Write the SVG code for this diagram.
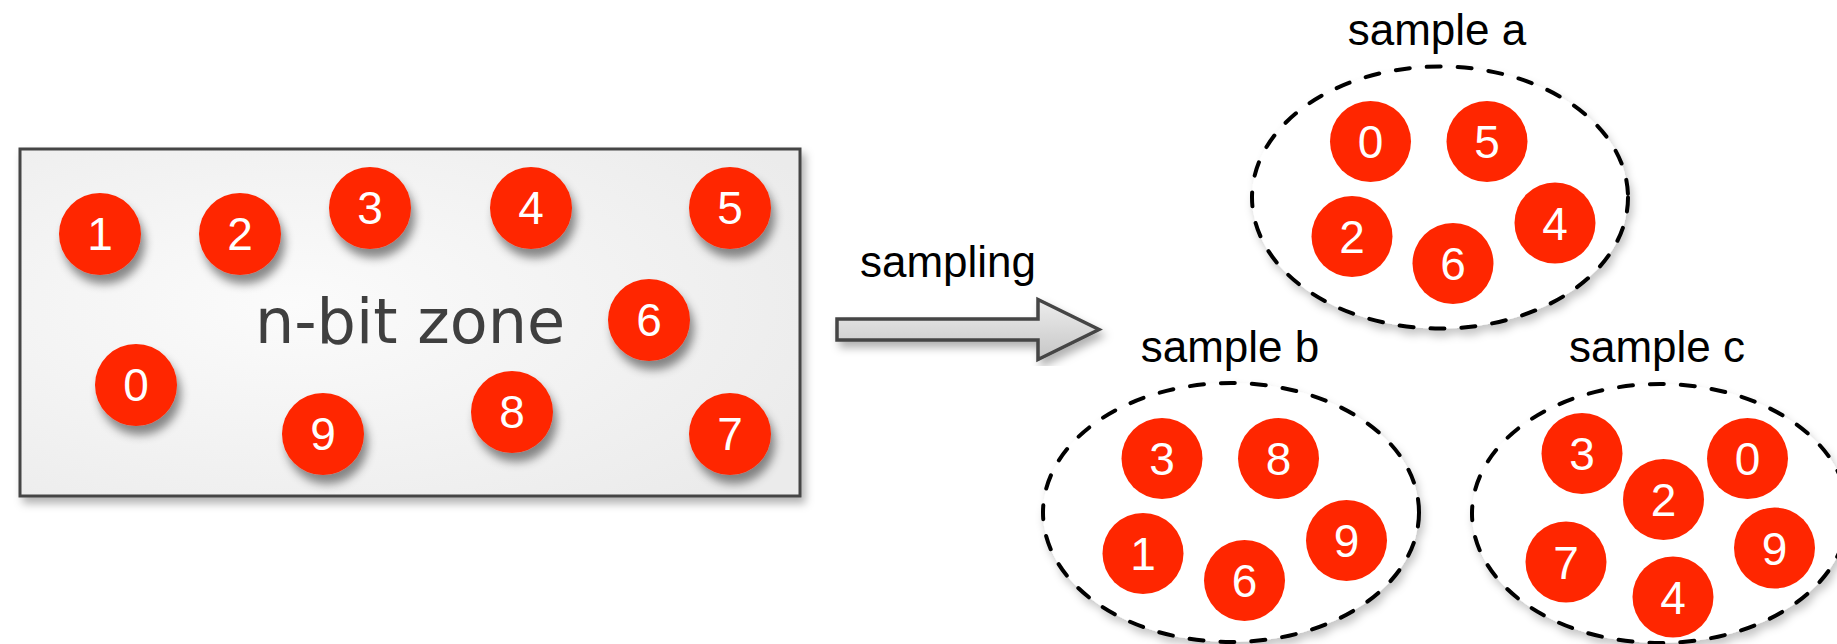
<svg xmlns="http://www.w3.org/2000/svg" width="1837" height="644" viewBox="0 0 1837 644">
<defs>
<filter id="ds" x="-40%" y="-40%" width="190%" height="200%">
<feDropShadow dx="4" dy="9" stdDeviation="5" flood-color="#000" flood-opacity="0.45"/>
</filter>
<filter id="rs" x="-5%" y="-5%" width="112%" height="115%">
<feDropShadow dx="4" dy="6" stdDeviation="4" flood-color="#000" flood-opacity="0.3"/>
</filter>
<filter id="es" x="-10%" y="-10%" width="125%" height="130%">
<feDropShadow dx="3" dy="6" stdDeviation="4" flood-color="#000" flood-opacity="0.22"/>
</filter>
<radialGradient id="rg" cx="35%" cy="45%" r="75%">
<stop offset="0" stop-color="#fbfbfb"/>
<stop offset="1" stop-color="#ebebeb"/>
</radialGradient>
<linearGradient id="ag" x1="0" y1="0" x2="0" y2="1">
<stop offset="0" stop-color="#ededed"/>
<stop offset="1" stop-color="#c6c6c6"/>
</linearGradient>
<style>
.ball{fill:#ff2600}
.num{fill:#fff;font-family:"Liberation Sans",Arial,sans-serif;font-size:46px;text-anchor:middle}
.lbl{fill:#000;font-family:"Liberation Sans",Arial,sans-serif;font-size:44px;text-anchor:middle}
.grp{fill:#fff;stroke:#000;stroke-width:4;stroke-linecap:round;stroke-dasharray:14 17}
</style>
</defs>
<rect width="1837" height="644" fill="#fff"/>

<g id="zone">
<rect x="20" y="149" width="780" height="347" fill="url(#rg)" stroke="#444" stroke-width="3" filter="url(#rs)"/>
<text x="410" y="343" font-family="DejaVu Sans, Verdana, sans-serif" font-size="62" fill="#3f3f3f" text-anchor="middle">n-bit zone</text>
</g>

<g id="zone-balls">
<g id="z1"><circle class="ball" cx="100" cy="234" r="41" filter="url(#ds)"/><text class="num" x="100" y="250">1</text></g>
<g id="z2"><circle class="ball" cx="240" cy="234" r="41" filter="url(#ds)"/><text class="num" x="240" y="250">2</text></g>
<g id="z3"><circle class="ball" cx="370" cy="208" r="41" filter="url(#ds)"/><text class="num" x="370" y="224">3</text></g>
<g id="z4"><circle class="ball" cx="531" cy="208" r="41" filter="url(#ds)"/><text class="num" x="531" y="224">4</text></g>
<g id="z5"><circle class="ball" cx="730" cy="208" r="41" filter="url(#ds)"/><text class="num" x="730" y="224">5</text></g>
<g id="z6"><circle class="ball" cx="649" cy="320" r="41" filter="url(#ds)"/><text class="num" x="649" y="336">6</text></g>
<g id="z0"><circle class="ball" cx="136" cy="385" r="41" filter="url(#ds)"/><text class="num" x="136" y="401">0</text></g>
<g id="z9"><circle class="ball" cx="323" cy="434" r="41" filter="url(#ds)"/><text class="num" x="323" y="450">9</text></g>
<g id="z8"><circle class="ball" cx="512" cy="412" r="41" filter="url(#ds)"/><text class="num" x="512" y="428">8</text></g>
<g id="z7"><circle class="ball" cx="730" cy="434" r="41" filter="url(#ds)"/><text class="num" x="730" y="450">7</text></g>
</g>

<g id="connectors">
<path d="M837,319 H1038 V299.5 L1099,329.5 L1038,359.5 V340 H837 Z" fill="url(#ag)" stroke="#444" stroke-width="3.5" stroke-linejoin="miter" filter="url(#rs)"/>
<text class="lbl" x="948" y="277">sampling</text>
</g>

<g id="sample-a">
<text class="lbl" x="1437" y="45">sample a</text>
<ellipse class="grp" cx="1440" cy="197.5" rx="188" ry="131" filter="url(#es)"/>
<circle class="ball" cx="1370.5" cy="141.5" r="40.5"/><text class="num" x="1370.5" y="158">0</text>
<circle class="ball" cx="1487" cy="141.5" r="40.5"/><text class="num" x="1487" y="158">5</text>
<circle class="ball" cx="1352" cy="236.5" r="40.5"/><text class="num" x="1352" y="253">2</text>
<circle class="ball" cx="1453" cy="263.5" r="40.5"/><text class="num" x="1453" y="280">6</text>
<circle class="ball" cx="1555" cy="223" r="40.5"/><text class="num" x="1555" y="239.5">4</text>
</g>

<g id="sample-b">
<text class="lbl" x="1230" y="362">sample b</text>
<ellipse class="grp" cx="1231" cy="512.5" rx="188" ry="129.5" filter="url(#es)"/>
<circle class="ball" cx="1162" cy="458.5" r="40.5"/><text class="num" x="1162" y="475">3</text>
<circle class="ball" cx="1278.5" cy="458.5" r="40.5"/><text class="num" x="1278.5" y="475">8</text>
<circle class="ball" cx="1143" cy="553.5" r="40.5"/><text class="num" x="1143" y="570">1</text>
<circle class="ball" cx="1244.5" cy="580.5" r="40.5"/><text class="num" x="1244.5" y="597">6</text>
<circle class="ball" cx="1346.5" cy="540.5" r="40.5"/><text class="num" x="1346.5" y="557">9</text>
</g>

<g id="sample-c">
<text class="lbl" x="1657" y="362">sample c</text>
<ellipse class="grp" cx="1660" cy="513.5" rx="188" ry="129.5" filter="url(#es)"/>
<circle class="ball" cx="1582" cy="453.5" r="40.5"/><text class="num" x="1582" y="470">3</text>
<circle class="ball" cx="1663.5" cy="499.5" r="40.5"/><text class="num" x="1663.5" y="516">2</text>
<circle class="ball" cx="1747.5" cy="458.5" r="40.5"/><text class="num" x="1747.5" y="475">0</text>
<circle class="ball" cx="1566" cy="562" r="40.5"/><text class="num" x="1566" y="578.5">7</text>
<circle class="ball" cx="1673" cy="597" r="40.5"/><text class="num" x="1673" y="613.5">4</text>
<circle class="ball" cx="1774.5" cy="548" r="40.5"/><text class="num" x="1774.5" y="564.5">9</text>
</g>
</svg>
